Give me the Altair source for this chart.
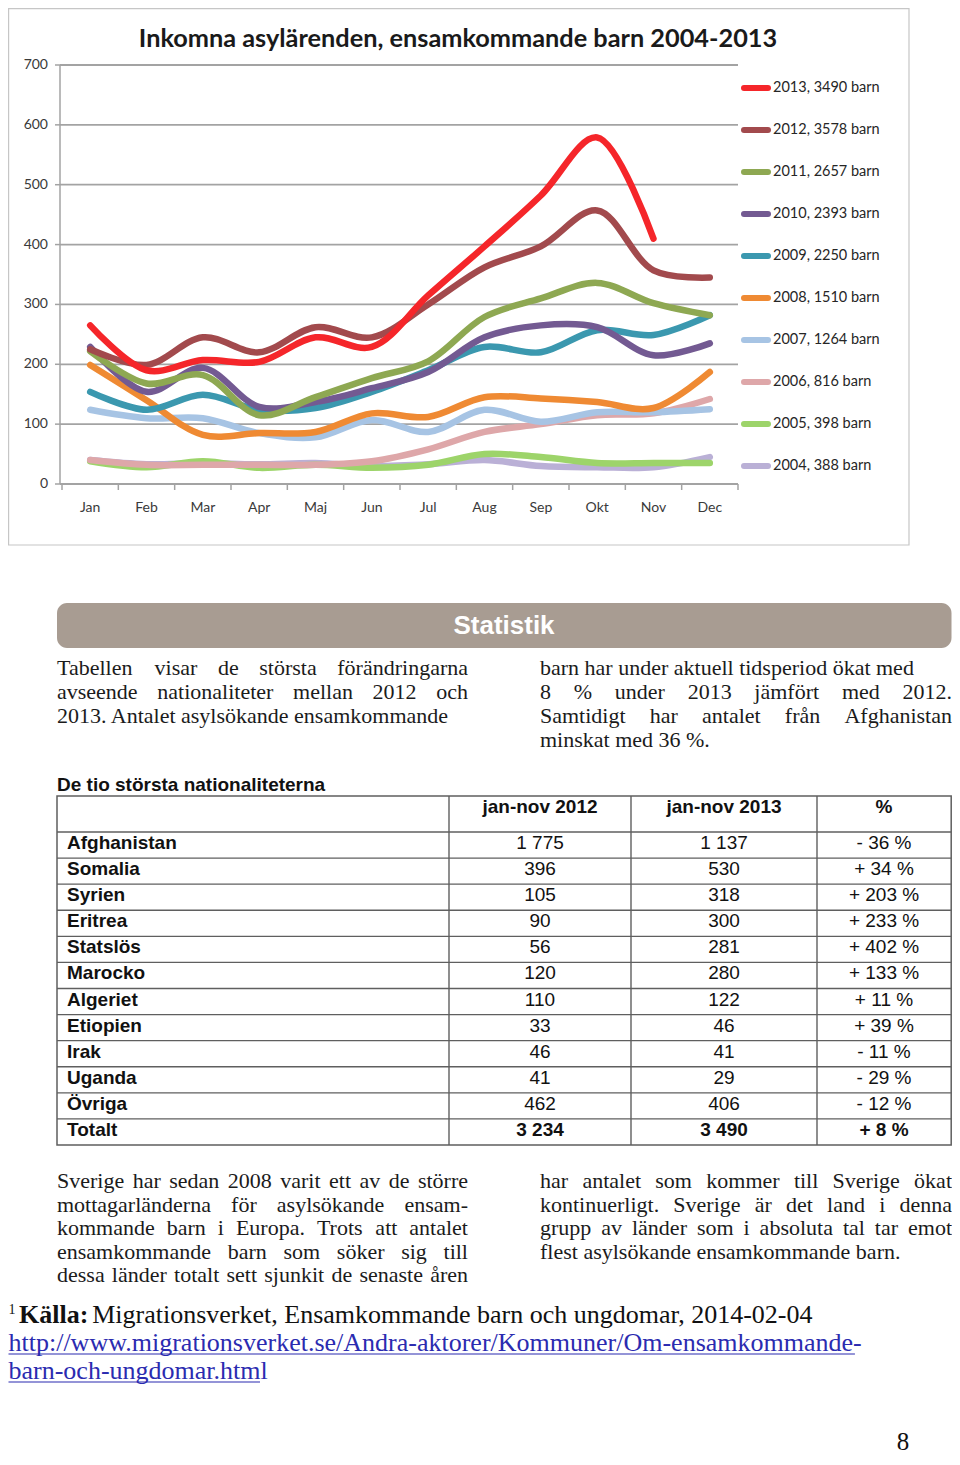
import altair as alt
import pandas as pd

# ---------------- data ----------------
months = ["Jan", "Feb", "Mar", "Apr", "Maj", "Jun", "Jul", "Aug", "Sep", "Okt", "Nov", "Dec"]
years = ["2013", "2012", "2011", "2010", "2009", "2008", "2007", "2006", "2005", "2004"]
year_totals = [3490, 3578, 2657, 2393, 2250, 1510, 1264, 816, 398, 388]
series_2013 = [265, 190, 207, 204, 245, 229, 315, 397, 482, 579, 410]
series_2012 = [225, 199, 245, 220, 262, 245, 300, 362, 397, 457, 357, 345]
series_2011 = [222, 168, 182, 115, 145, 177, 205, 279, 310, 336, 302, 282]
series_2010 = [229, 154, 194, 129, 137, 160, 187, 245, 265, 262, 215, 235]
series_2009 = [154, 124, 149, 124, 127, 154, 190, 229, 220, 257, 249, 282]
series_2008 = [199, 140, 82, 85, 87, 118, 112, 145, 143, 137, 127, 187]
series_2007 = [124, 110, 110, 85, 78, 107, 87, 124, 104, 120, 120, 125]
series_2006 = [40, 32, 32, 32, 32, 38, 58, 87, 100, 115, 118, 142]
series_2005 = [38, 28, 38, 27, 32, 27, 32, 50, 45, 35, 35, 35]
series_2004 = [40, 33, 35, 33, 35, 30, 33, 40, 30, 28, 28, 45]
y_ticks = [0, 100, 200, 300, 400, 500, 600, 700]

countries = ["Afghanistan", "Somalia", "Syrien", "Eritrea", "Statslös", "Marocko",
             "Algeriet", "Etiopien", "Irak", "Uganda", "Övriga", "Totalt"]
jan_nov_2012 = [1775, 396, 105, 90, 56, 120, 110, 33, 46, 41, 462, 3234]
jan_nov_2013 = [1137, 530, 318, 300, 281, 280, 122, 46, 41, 29, 406, 3490]
change_pct = [-36, 34, 203, 233, 402, 133, 11, 39, -11, -29, -12, 8]
table_header = ["jan-nov 2012", "jan-nov 2013", "%"]

chart_title = "Inkomna asylärenden, ensamkommande barn 2004-2013"
banner_title = "Statistik"
table_title = "De tio största nationaliteterna"
intro_left = ["Tabellen visar de största förändringarna",
              "avseende nationaliteter mellan 2012 och",
              "2013. Antalet asylsökande ensamkommande"]
intro_right = ["barn har under aktuell tidsperiod ökat med",
               "8 % under 2013 jämfört med 2012.",
               "Samtidigt har antalet från Afghanistan",
               "minskat med 36 %."]
outro_left = ["Sverige har sedan 2008 varit ett av de större",
              "mottagarländerna för asylsökande ensam-",
              "kommande barn i Europa. Trots att antalet",
              "ensamkommande barn som söker sig till",
              "dessa länder totalt sett sjunkit de senaste åren"]
outro_right = ["har antalet som kommer till Sverige ökat",
               "kontinuerligt. Sverige är det land i denna",
               "grupp av länder som i absoluta tal tar emot",
               "flest asylsökande ensamkommande barn."]
footnote_mark = "1"
footnote_label = "Källa:"
footnote_text = "Migrationsverket, Ensamkommande barn och ungdomar, 2014-02-04"
footnote_url = ["http://www.migrationsverket.se/Andra-aktorer/Kommuner/Om-ensamkommande-",
                "barn-och-ungdomar.html"]
page_number = "8"

# ---------------- styles ----------------
colors = ["#F5262A", "#A24A4D", "#8EA852", "#735A92", "#3B98AF",
          "#EF8A33", "#A7C4E4", "#DEA7A9", "#9DD46A", "#BAB0D6"]
CHART_FONT = "Lato"
SERIF = "Liberation Serif"
SANS = "Liberation Sans"
W, H = 944, 1449


def R(v):
    """page pixel -> chart pixel (8px body margin)"""
    return v - 8


TIMES = {" ": 250, "%": 833, ",": 250, "-": 333, ".": 250, "/": 278, ":": 278,
         "A": 722, "B": 667, "C": 667, "D": 722, "E": 611, "F": 556, "G": 722, "H": 722,
         "I": 333, "J": 389, "K": 722, "L": 611, "M": 889, "N": 722, "O": 722, "P": 556,
         "Q": 722, "R": 667, "S": 556, "T": 611, "U": 722, "V": 722, "W": 944, "X": 722,
         "Y": 722, "Z": 611, "a": 444, "b": 500, "c": 444, "d": 500, "e": 444, "f": 333,
         "g": 500, "h": 500, "i": 278, "j": 278, "k": 500, "l": 278, "m": 778, "n": 500,
         "o": 500, "p": 500, "q": 500, "r": 333, "s": 389, "t": 278, "u": 500, "v": 500,
         "w": 722, "x": 500, "y": 500, "z": 444, "ä": 444, "å": 444, "ö": 500, "Ö": 722}


def tw(s, size, bold=False):
    return sum(TIMES.get(c, 500) for c in s) / 1000 * size * (1.05 if bold else 1.0)


def lay(lines, x0, x1, y0, dy, size, justify):
    rows = []
    for i, (line, j) in enumerate(zip(lines, justify)):
        y = y0 + i * dy
        words = line.split(" ")
        if j and len(words) > 1:
            ws = [tw(w, size) for w in words]
            gap = (x1 - x0 - sum(ws)) / (len(words) - 1)
            x = x0
            for w, wd in zip(words, ws):
                rows.append({"t": w, "x": R(x), "y": R(y)})
                x += wd + gap
        else:
            rows.append({"t": line, "x": R(x0), "y": R(y)})
    return rows


one = pd.DataFrame({"a": [0]})

# ---------------- line chart ----------------
series = [series_2013, series_2012, series_2011, series_2010, series_2009,
          series_2008, series_2007, series_2006, series_2005, series_2004]
recs = []
for yr, vals in reversed(list(zip(years, series))):
    for i, v in enumerate(vals):
        recs.append({"year": yr, "month": months[i], "mi": i, "v": v})
line_df = pd.DataFrame(recs)

ysc = alt.Scale(domain=[0, 700], range=[R(484), R(65)], nice=False, zero=False)
xband = alt.Scale(type="band", domain=months, range=[R(62), R(738)], paddingInner=0, paddingOuter=0)
xpt = alt.Scale(type="point", domain=months, range=[R(90.2), R(709.8)], padding=0)
csc = alt.Scale(domain=years, range=colors)

frame = alt.Chart(one).mark_rect(fill="white", stroke="#C6C6C6", strokeWidth=1.2).encode(
    x=alt.value(0.6), x2=alt.value(R(909)), y=alt.value(0.6), y2=alt.value(R(545)))

title = alt.Chart(one).mark_text(text=chart_title, font=CHART_FONT, fontSize=25.3, fontWeight="bold",
                                 color="#1a1a1a", align="center", baseline="middle").encode(
    x=alt.value(R(458)), y=alt.value(R(39)))

tick_df = pd.DataFrame({"v": y_ticks})
grid = alt.Chart(tick_df).mark_rule(color="#A3A3A3", strokeWidth=1.8).encode(
    y=alt.Y("v:Q", scale=ysc, axis=None), x=alt.value(R(60)), x2=alt.value(R(738)))
yticks = alt.Chart(tick_df).mark_rule(color="#A3A3A3", strokeWidth=1.5).encode(
    y=alt.Y("v:Q", scale=ysc, axis=None), x=alt.value(R(55)), x2=alt.value(R(60)))
ylabels = alt.Chart(tick_df).mark_text(font=CHART_FONT, fontSize=14, color="#3a3a3a",
                                       align="right", baseline="middle").encode(
    y=alt.Y("v:Q", scale=ysc, axis=None), x=alt.value(R(48)), text="v:Q")
yaxis = alt.Chart(one).mark_rule(color="#A3A3A3", strokeWidth=1.5).encode(
    x=alt.value(R(60)), y=alt.value(R(65)), y2=alt.value(R(484)))

month_df = pd.DataFrame({"month": months})
xticks = alt.Chart(month_df).mark_rule(color="#A3A3A3", strokeWidth=1.5).encode(
    x=alt.X("month:N", scale=xband, bandPosition=0, axis=None),
    y=alt.value(R(484)), y2=alt.value(R(490)))
xtick_end = alt.Chart(one).mark_rule(color="#A3A3A3", strokeWidth=1.5).encode(
    x=alt.value(R(738)), y=alt.value(R(484)), y2=alt.value(R(490)))
xlabels = alt.Chart(month_df).mark_text(font=CHART_FONT, fontSize=14, color="#3a3a3a",
                                        align="center", baseline="middle").encode(
    x=alt.X("month:N", scale=xband, bandPosition=0.5, axis=None),
    y=alt.value(R(508)), text="month:N")

lines = alt.Chart(line_df).mark_line(interpolate="catmull-rom", strokeWidth=6.5,
                                     strokeCap="round", strokeJoin="round").encode(
    x=alt.X("month:N", scale=xpt, axis=None),
    y=alt.Y("v:Q", scale=ysc, axis=None),
    color=alt.Color("year:N", scale=csc, legend=None),
    detail="year:N",
    order=alt.Order("mi:Q"))

leg_df = pd.DataFrame({"year": years,
                       "label": [f"{y}, {t} barn" for y, t in zip(years, year_totals)]})
legy = alt.Scale(type="point", domain=years, range=[R(88), R(466)], padding=0)
leg_sym = alt.Chart(leg_df).mark_rule(strokeWidth=6, strokeCap="round").encode(
    y=alt.Y("year:N", scale=legy, axis=None), x=alt.value(R(744)), x2=alt.value(R(768)),
    color=alt.Color("year:N", scale=csc, legend=None))
leg_txt = alt.Chart(leg_df).mark_text(font=CHART_FONT, fontSize=14.5, color="#262626",
                                      align="left", baseline="middle").encode(
    y=alt.Y("year:N", scale=legy, axis=None), x=alt.value(R(773)), text="label:N")

# ---------------- banner + prose ----------------
banner = alt.Chart(one).mark_rect(color="#A89C92", cornerRadius=10).encode(
    x=alt.value(R(57)), x2=alt.value(W - 0.5), y=alt.value(R(603)), y2=alt.value(R(648)))
banner_txt = alt.Chart(one).mark_text(text=banner_title, font=SANS, fontSize=26, fontWeight="bold",
                                      color="white", align="center", baseline="middle").encode(
    x=alt.value(R(504)), y=alt.value(R(626)))

PS = 22
prose = []
prose += lay(intro_left, 57, 468, 668, 24, PS, [True, True, False])
prose += lay(intro_right, 540, 952, 668, 24, PS, [False, True, True, False])
prose += lay(outro_left, 57, 468, 1181, 23.6, PS, [True, True, True, True, True])
prose += lay(outro_right, 540, 952, 1181, 23.6, PS, [True, True, True, False])
prose_df = pd.DataFrame(prose)
prose_layer = alt.Chart(prose_df).mark_text(font=SERIF, fontSize=PS, color="#1b1b1b",
                                            align="left", baseline="middle").encode(
    x=alt.X("x:Q", scale=None, axis=None), y=alt.Y("y:Q", scale=None, axis=None), text="t:N")

# ---------------- table ----------------
def fmt_int(n):
    return f"{n:,}".replace(",", " ")


def fmt_pct(p):
    return f"- {abs(p)} %" if p < 0 else f"+ {p} %"


tab_df = pd.DataFrame({"country": countries,
                       "a": [fmt_int(v) for v in jan_nov_2012],
                       "b": [fmt_int(v) for v in jan_nov_2013],
                       "p": [fmt_pct(v) for v in change_pct]})
rowsc = alt.Scale(type="band", domain=countries, range=[R(832), R(1145)], paddingInner=0, paddingOuter=0)
TS = 19
LC = "#5f5f5f"

tab_title = alt.Chart(one).mark_text(text=table_title, font=SANS, fontSize=TS, fontWeight="bold",
                                     color="#111111", align="left", baseline="middle").encode(
    x=alt.value(R(57)), y=alt.value(R(785)))
tab_border = alt.Chart(one).mark_rect(fill="white", fillOpacity=0, stroke=LC, strokeWidth=1.5).encode(
    x=alt.value(R(57)), x2=alt.value(W - 0.8), y=alt.value(R(796)), y2=alt.value(R(1145)))
row_lines = alt.Chart(tab_df).mark_rule(color=LC, strokeWidth=1.4).encode(
    y=alt.Y("country:N", scale=rowsc, bandPosition=0, axis=None),
    x=alt.value(R(57)), x2=alt.value(W - 0.8))
col_layers = []
for cx in [449, 631, 817]:
    col_layers.append(alt.Chart(one).mark_rule(color=LC, strokeWidth=1.4).encode(
        x=alt.value(R(cx)), y=alt.value(R(796)), y2=alt.value(R(1145))))

head_layers = []
for txt, cx in zip(table_header, [540, 724, 884]):
    head_layers.append(alt.Chart(one).mark_text(text=txt, font=SANS, fontSize=TS, fontWeight="bold",
                                                color="#111111", align="center", baseline="middle").encode(
        x=alt.value(R(cx)), y=alt.value(R(807))))

names = alt.Chart(tab_df).mark_text(font=SANS, fontSize=TS, fontWeight="bold", color="#111111",
                                    align="left", baseline="middle", dy=-2).encode(
    y=alt.Y("country:N", scale=rowsc, bandPosition=0.5, axis=None),
    x=alt.value(R(67)), text="country:N")

cell_layers = []
for field, cx in [("a", 540), ("b", 724), ("p", 884)]:
    for is_total in (False, True):
        flt = (alt.datum.country == "Totalt") if is_total else (alt.datum.country != "Totalt")
        cell_layers.append(alt.Chart(tab_df).transform_filter(flt).mark_text(
            font=SANS, fontSize=TS, fontWeight="bold" if is_total else "normal", color="#111111",
            align="center", baseline="middle", dy=-2).encode(
            y=alt.Y("country:N", scale=rowsc, bandPosition=0.5, axis=None),
            x=alt.value(R(cx)), text=f"{field}:N"))

# ---------------- footnote ----------------
FS = 26
FX = 8.5
fn_mark = alt.Chart(one).mark_text(text=footnote_mark, font=SERIF, fontSize=14, color="#111111",
                                   align="left", baseline="middle").encode(
    x=alt.value(R(FX)), y=alt.value(R(1310)))
fn_label = alt.Chart(one).mark_text(text=footnote_label, font=SERIF, fontSize=FS, fontWeight="bold",
                                    color="#111111", align="left", baseline="middle").encode(
    x=alt.value(R(19)), y=alt.value(R(1315)))
rest_x = 19 + tw(footnote_label, FS, True) + tw(" ", FS)
fn_text = alt.Chart(one).mark_text(text=footnote_text, font=SERIF, fontSize=FS, color="#111111",
                                   align="left", baseline="middle").encode(
    x=alt.value(R(rest_x)), y=alt.value(R(1315)))
ul_fit = [0.99, 0.965]
url_df = pd.DataFrame({"t": footnote_url, "y": [R(1343), R(1371)],
                       "x": [R(FX), R(FX)],
                       "xe": [R(FX + f * tw(u, FS)) for u, f in zip(footnote_url, ul_fit)],
                       "yu": [R(1354), R(1382)]})
fn_url = alt.Chart(url_df).mark_text(font=SERIF, fontSize=FS, color="#2B2BB0",
                                     align="left", baseline="middle").encode(
    x=alt.X("x:Q", scale=None, axis=None), y=alt.Y("y:Q", scale=None, axis=None), text="t:N")
fn_ul = alt.Chart(url_df).mark_rule(color="#2B2BB0", strokeWidth=1.2).encode(
    x=alt.X("x:Q", scale=None, axis=None), x2="xe:Q", y=alt.Y("yu:Q", scale=None, axis=None))
page_no = alt.Chart(one).mark_text(text=page_number, font=SERIF, fontSize=25, color="#111111",
                                   align="center", baseline="middle").encode(
    x=alt.value(R(903)), y=alt.value(H - 15))

layers = [frame, grid, yticks, yaxis, ylabels, xticks, xtick_end, xlabels, lines, leg_sym, leg_txt, title,
          banner, banner_txt, prose_layer, tab_title, tab_border, row_lines] + col_layers + head_layers + \
         [names] + cell_layers + [fn_mark, fn_label, fn_text, fn_url, fn_ul, page_no]

chart = alt.layer(*layers).resolve_scale(x="independent", y="independent").properties(
    width=W, height=H, padding=0, autosize=alt.AutoSizeParams(type="none"),
    background="white").configure_view(strokeWidth=0)

chart.save("out.html", embed_options={"renderer": "svg", "actions": False})
